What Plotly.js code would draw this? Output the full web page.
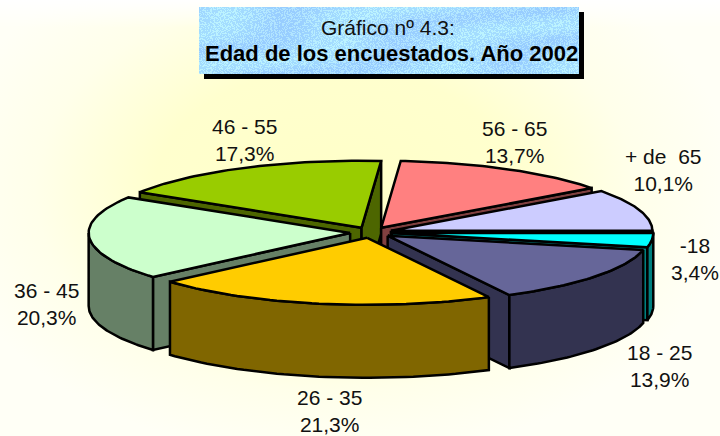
<!DOCTYPE html>
<html><head><meta charset="utf-8">
<script src="https://cdn.plot.ly/plotly-3.0.1.min.js"></script>
<style>
html,body{margin:0;padding:0;width:720px;height:436px;overflow:hidden;
background:radial-gradient(ellipse 400px 270px at 335px 190px,#FFFFC8 0%,#FFFFCE 45%,#FFFFEA 75%,#FFFFF6 100%);}
#top{position:absolute;left:0;top:0;width:720px;height:28px;background:linear-gradient(#FFFFFF,rgba(255,255,255,0));}
#chart{position:absolute;left:0;top:0;width:720px;height:436px;}
</style></head><body><div id="top"></div><div id="chart"></div>
<script>
const categories = ['56 - 65','+ de  65','-18','18 - 25','26 - 35','36 - 45','46 - 55'];
const percents   = [13.7,10.1,3.4,13.9,21.3,20.3,17.3];
const pctLabels  = ['13,7%','10,1%','3,4%','13,9%','21,3%','20,3%','17,3%'];
const topColors  = ['#FF8080','#CCCCFF','#00FFFF','#666699','#FFCC00','#CCFFCC','#99CC00'];
const wallColors = ['#804040','#666680','#008080','#333350','#806600','#668066','#4D6600'];
const labelX     = [514,663,695,659,329,46,244];
const labelY     = [142,170,259,366,411,304,140];
const paintOrder = [6,0,1,2,3,5,4];

const firstAngle = 4.3, cx = 371, cy = 232.5, rx = 261.5, ry = 67, depth = 73, explode = 0.08;
const rad = d => d*Math.PI/180;
const total = percents.reduce((a,b)=>a+b,0);
let acc = firstAngle;
const spans = percents.map(p=>{const a=acc; acc+=p/total*360; return [a,acc];});

function face(xs,ys,color){
  return {type:'scatter',mode:'lines',x:xs.concat(xs[0]),y:ys.concat(ys[0]),fill:'toself',
    fillcolor:color,line:{color:'#000',width:2.5,shape:'linear'},hoverinfo:'skip',showlegend:false};
}
const traces=[];
paintOrder.forEach(i=>{
  const [a,b]=spans[i], mid=(a+b)/2;
  const ax=cx+explode*rx*Math.sin(rad(mid)), ay=cy-explode*ry*Math.cos(rad(mid));
  const px=t=>ax+rx*Math.sin(rad(t)), py=t=>ay-ry*Math.cos(rad(t));
  if(Math.sin(rad(a))<0) traces.push(face([ax,px(a),px(a),ax],[ay,py(a),py(a)+depth,ay+depth],wallColors[i]));
  if(Math.sin(rad(b))>0) traces.push(face([ax,px(b),px(b),ax],[ay,py(b),py(b)+depth,ay+depth],wallColors[i]));
  const lo=Math.max(a,90), hi=Math.min(b,270);
  if(hi>lo){
    const xs=[],ys=[],xb=[],yb=[];
    for(let k=0;k<=48;k++){const t=lo+(hi-lo)*k/48; xs.push(px(t));ys.push(py(t));xb.unshift(px(t));yb.unshift(py(t)+depth);}
    traces.push(face(xs.concat(xb),ys.concat(yb),wallColors[i]));
  }
  const tx=[ax],ty=[ay];
  for(let k=0;k<=48;k++){const t=a+(b-a)*k/48; tx.push(px(t));ty.push(py(t));}
  traces.push(face(tx,ty,topColors[i]));
});

// mottled title-box texture
const cv=document.createElement('canvas');cv.width=380;cv.height=67;
const c2=cv.getContext('2d'),im=c2.createImageData(380,67);
for(let y=0;y<67;y++)for(let x=0;x<380;x++){
  const h=Math.sin(x*12.9898+y*78.233)*43758.5453, n=h-Math.floor(h);
  const s=0.5+0.5*Math.sin(x*0.035+y*0.11+1.5*Math.sin(x*0.013-y*0.07));
  const speck=n>0.6?1:0;
  const j=(y*380+x)*4;
  im.data[j]=Math.min(255,152+12*s+speck*24);
  im.data[j+1]=Math.min(255,205+16*s+speck*22);
  im.data[j+2]=255;im.data[j+3]=255;
}
c2.putImageData(im,0,0);

const font='"Liberation Sans",Arial,sans-serif';
const anns=categories.map((c,i)=>({xref:'x',yref:'y',x:labelX[i],y:labelY[i],xanchor:'center',yanchor:'middle',
  text:c+'<br>'+pctLabels[i],showarrow:false,font:{family:font,size:21,color:'#111'},align:'center'}));
anns.push({xref:'x',yref:'y',x:388,y:27,xanchor:'center',yanchor:'middle',text:'Gráfico nº 4.3:',showarrow:false,font:{family:font,size:21,color:'#111'}});
anns.push({xref:'x',yref:'y',x:391,y:53,xanchor:'center',yanchor:'middle',text:'<b>Edad de los encuestados. Año 2002</b>',showarrow:false,font:{family:font,size:22,color:'#000'}});

Plotly.newPlot('chart',traces,{
  width:720,height:436,margin:{l:0,r:0,t:0,b:0},
  paper_bgcolor:'rgba(0,0,0,0)',plot_bgcolor:'rgba(0,0,0,0)',showlegend:false,
  xaxis:{range:[0,720],visible:false,fixedrange:true},
  yaxis:{range:[436,0],visible:false,fixedrange:true},
  shapes:[{type:'rect',xref:'x',yref:'y',x0:204,x1:584,y0:12,y1:79,fillcolor:'#000',line:{width:0},layer:'below'}],
  images:[{source:cv.toDataURL(),xref:'x',yref:'y',x:199,y:7,sizex:380,sizey:67,xanchor:'left',yanchor:'top',sizing:'stretch',layer:'above'}],
  annotations:anns
},{displayModeBar:false,staticPlot:true});
</script></body></html>
